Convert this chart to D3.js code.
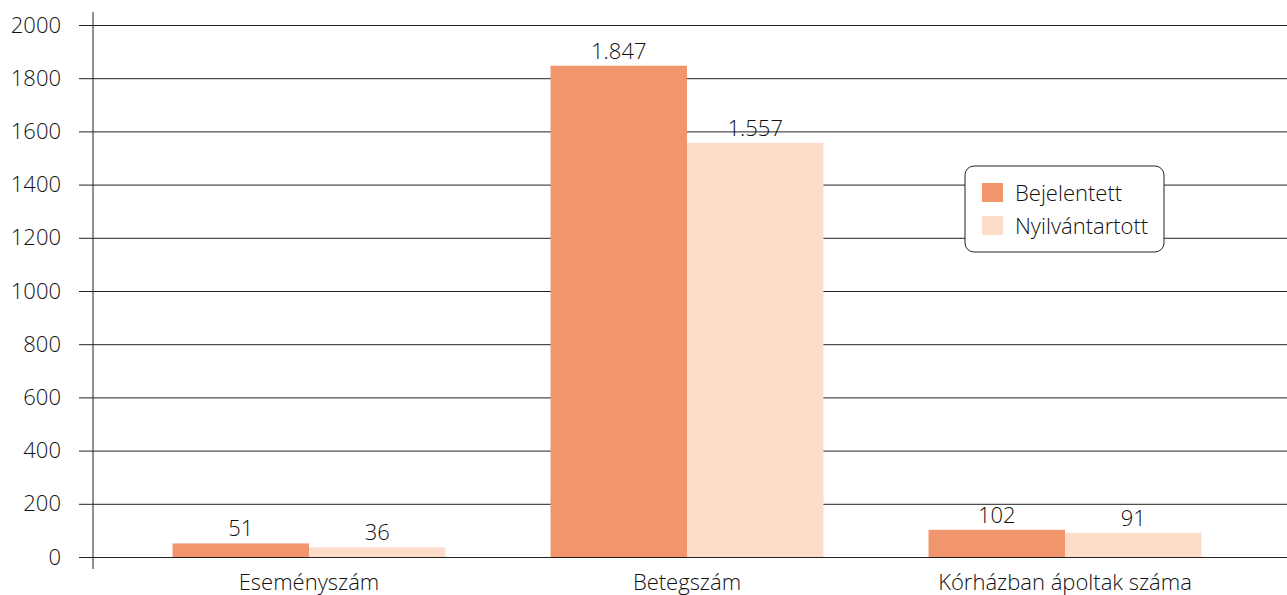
<!DOCTYPE html>
<html>
<head>
<meta charset="utf-8">
<script src="https://cdn.jsdelivr.net/npm/d3@7"></script>
<style>
  body { margin: 0; background: #fff; }
  text { font-family: "Segoe UI", "Open Sans", sans-serif; font-weight: 300; fill: #111; }
</style>
</head>
<body>
<script>
const categories = ["Eseményszám", "Betegszám", "Kórházban ápoltak száma"];
const series = ["Bejelentett", "Nyilvántartott"];
const bejelentett = [51, 1847, 102];
const nyilvantartott = [36, 1557, 91];
const yTicks = [0, 200, 400, 600, 800, 1000, 1200, 1400, 1600, 1800, 2000];

const colors = d3.scaleOrdinal().domain(series).range(["#F0956C", "#FDDCCA"]);
const hu = d3.formatLocale({ decimal: ",", thousands: ".", grouping: [3], currency: ["", " Ft"] });
const fmt = hu.format(",d");

const data = categories.map((c, i) => ({
    cat: c,
    values: [
        { key: "Bejelentett", value: bejelentett[i] },
        { key: "Nyilvántartott", value: nyilvantartott[i] }
    ]
}));

const W = 1287, H = 595;
const axisX = 93;
const fontSize = "22px";

const svg = d3.select("body").append("svg")
    .attr("width", W)
    .attr("height", H);

const y = d3.scaleLinear().domain([0, 2000]).range([557, 25]);

const x0 = d3.scaleBand()
    .domain(categories)
    .range([120, 1254])
    .paddingInner(0.278)
    .paddingOuter(0.139);

const x1 = d3.scaleBand()
    .domain(series)
    .range([0, x0.bandwidth()]);

// gridlines + tick labels
const yAxis = svg.append("g")
    .attr("transform", `translate(${axisX},0)`)
    .call(d3.axisLeft(y).tickValues(yTicks).tickFormat(d3.format("d"))
        .tickSize(-(W - axisX)).tickSizeOuter(0).tickPadding(32));
yAxis.select(".domain").remove();
yAxis.selectAll(".tick line")
    .attr("x1", -14)
    .attr("stroke", "#222");
yAxis.selectAll(".tick text")
    .style("font-size", fontSize)
    .style("font-family", "\"Segoe UI\", \"Open Sans\", sans-serif")
    .attr("fill", "#111");

// bars
const groups = svg.append("g").selectAll("g")
    .data(data)
    .join("g")
    .attr("transform", d => `translate(${x0(d.cat)},0)`);

groups.selectAll("rect")
    .data(d => d.values)
    .join("rect")
    .attr("x", d => x1(d.key))
    .attr("y", d => y(d.value))
    .attr("width", x1.bandwidth())
    .attr("height", d => y(0) - y(d.value))
    .attr("fill", d => colors(d.key));

groups.selectAll("text")
    .data(d => d.values)
    .join("text")
    .attr("x", d => x1(d.key) + x1.bandwidth() / 2)
    .attr("y", d => y(d.value) - 7)
    .attr("text-anchor", "middle")
    .style("font-size", fontSize)
    .text(d => fmt(d.value));

// vertical axis line
svg.append("line")
    .attr("x1", axisX).attr("x2", axisX)
    .attr("y1", 12).attr("y2", 569)
    .attr("stroke", "#222");

// category labels
svg.append("g").selectAll("text")
    .data(categories)
    .join("text")
    .attr("x", d => x0(d) + x0.bandwidth() / 2)
    .attr("y", 590)
    .attr("text-anchor", "middle")
    .style("font-size", fontSize)
    .text(d => d);

// legend
const legend = svg.append("g").attr("transform", "translate(965,166)");
legend.append("rect")
    .attr("width", 199)
    .attr("height", 86)
    .attr("rx", 9)
    .attr("fill", "#fff")
    .attr("stroke", "#222");

const items = legend.selectAll(".item")
    .data(series)
    .join("g")
    .attr("class", "item")
    .attr("transform", (d, i) => `translate(17,${17 + i * 33})`);

items.append("rect")
    .attr("width", 21)
    .attr("height", 19)
    .attr("fill", d => colors(d));

items.append("text")
    .attr("x", 33)
    .attr("y", 10)
    .attr("dy", "0.35em")
    .style("font-size", fontSize)
    .text(d => d);
</script>
</body>
</html>
